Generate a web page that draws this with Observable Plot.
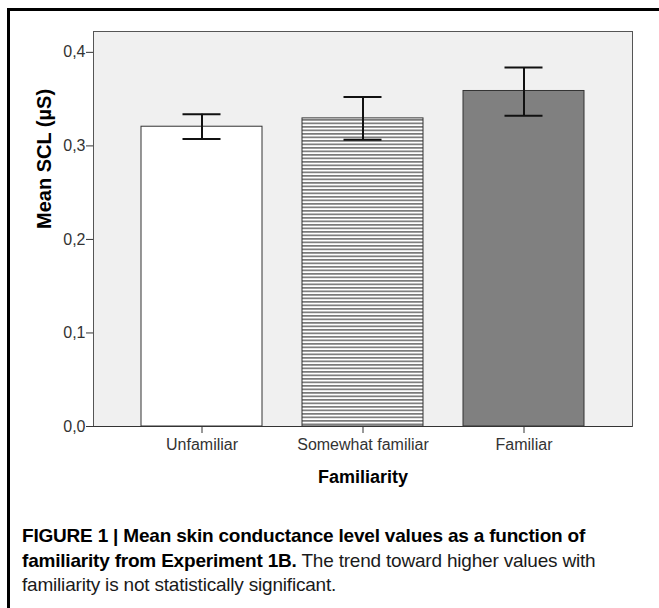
<!DOCTYPE html>
<html>
<head>
<meta charset="utf-8">
<script src="https://cdn.jsdelivr.net/npm/d3@7"></script>
<script src="https://cdn.jsdelivr.net/npm/@observablehq/plot@0.6"></script>
<style>
  html, body { margin: 0; padding: 0; background: #fff; overflow: hidden; }
  #wrap { position: relative; width: 659px; height: 608px; overflow: hidden; }
  #frame { position: absolute; left: 7px; top: 8px; width: 700px; height: 700px; border: 3px solid #000; box-sizing: border-box; }
  #chart { position: absolute; left: 0; top: 0; }
  #caption { position: absolute; left: 22px; top: 524px; width: 630px; font-family: "Liberation Sans", Arial, sans-serif; font-size: 19px; line-height: 24.5px; color: #1a1a1a; letter-spacing: -0.2px; }
  #caption div { white-space: nowrap; }
  #caption b { font-weight: bold; color: #000; }
</style>
</head>
<body>
<div id="wrap">
  <div id="frame"></div>
  <div id="chart"></div>
  <div id="caption">
    <div><b>FIGURE 1 | Mean skin conductance level values as a function of</b></div>
    <div><b>familiarity from Experiment 1B.</b> <span>The trend toward higher values with</span></div>
    <div><span>familiarity is not statistically significant.</span></div>
  </div>
</div>
<script>
const categories = ["Unfamiliar", "Somewhat familiar", "Familiar"];
const means = [0.3205, 0.3294, 0.3587];
const lower = [0.3073, 0.3065, 0.3323];
const upper = [0.3337, 0.3523, 0.3837];
const yTicks = [0, 0.1, 0.2, 0.3, 0.4];
const xLabel = "Familiarity";
const yLabel = "Mean SCL (µS)";

const data = categories.map((c, i) => ({cat: c, mean: means[i], lo: lower[i], hi: upper[i]}));
const fills = ["#ffffff", "url(#hatch)", "#808080"];

const chart = Plot.plot({
  width: 659,
  height: 500,
  marginLeft: 93,
  marginRight: 27,
  marginTop: 31,
  marginBottom: 74,
  style: {fontFamily: "Arial, 'Liberation Sans', sans-serif", fontSize: "16px", color: "#333", background: "transparent", overflow: "visible"},
  x: {domain: categories, paddingInner: 0.25, paddingOuter: 0.297},
  y: {domain: [0, 0.4223]},
  color: {type: "ordinal", domain: categories, range: fills},
  marks: [
    Plot.frame({fill: "#f0f0f0", stroke: "#555", strokeWidth: 1}),
    Plot.barY(data, {x: "cat", y: "mean", fill: "cat", stroke: "#333", strokeWidth: 1}),
    Plot.ruleX(data, {x: "cat", y1: "lo", y2: "hi", stroke: "#111", strokeWidth: 2}),
    Plot.tickY(data, {x: "cat", y: "lo", stroke: "#111", strokeWidth: 2, insetLeft: 41.5, insetRight: 41.5}),
    Plot.tickY(data, {x: "cat", y: "hi", stroke: "#111", strokeWidth: 2, insetLeft: 41.5, insetRight: 41.5}),
    Plot.axisY({ticks: yTicks, tickFormat: d => d3.format(".1f")(d).replace(".", ","), tickSize: 7, tickPadding: 1, label: null, fontSize: 16}),
    Plot.axisX({tickSize: 7, tickPadding: 5, label: null, fontSize: 16}),
    Plot.ruleY([0], {stroke: "#333", strokeWidth: 1}),
    Plot.text([xLabel], {frameAnchor: "bottom", dy: 51, fontWeight: "bold", fontSize: 18, fill: "#000", lineAnchor: "middle"}),
    Plot.text([yLabel], {frameAnchor: "left", dx: -49, rotate: -90, fontWeight: "bold", fontSize: 20, fill: "#000", lineAnchor: "middle"})
  ]
});

const svg = d3.select(chart);
const defs = svg.insert("defs", ":first-child");
const pat = defs.append("pattern").attr("id", "hatch").attr("patternUnits", "userSpaceOnUse")
  .attr("width", 10).attr("height", 3.5);
pat.append("rect").attr("width", 10).attr("height", 3.5).attr("fill", "#ffffff");
pat.append("rect").attr("width", 10).attr("height", 1.7).attr("fill", "#7a7a7a");

document.getElementById("chart").appendChild(chart);
</script>
</body>
</html>
